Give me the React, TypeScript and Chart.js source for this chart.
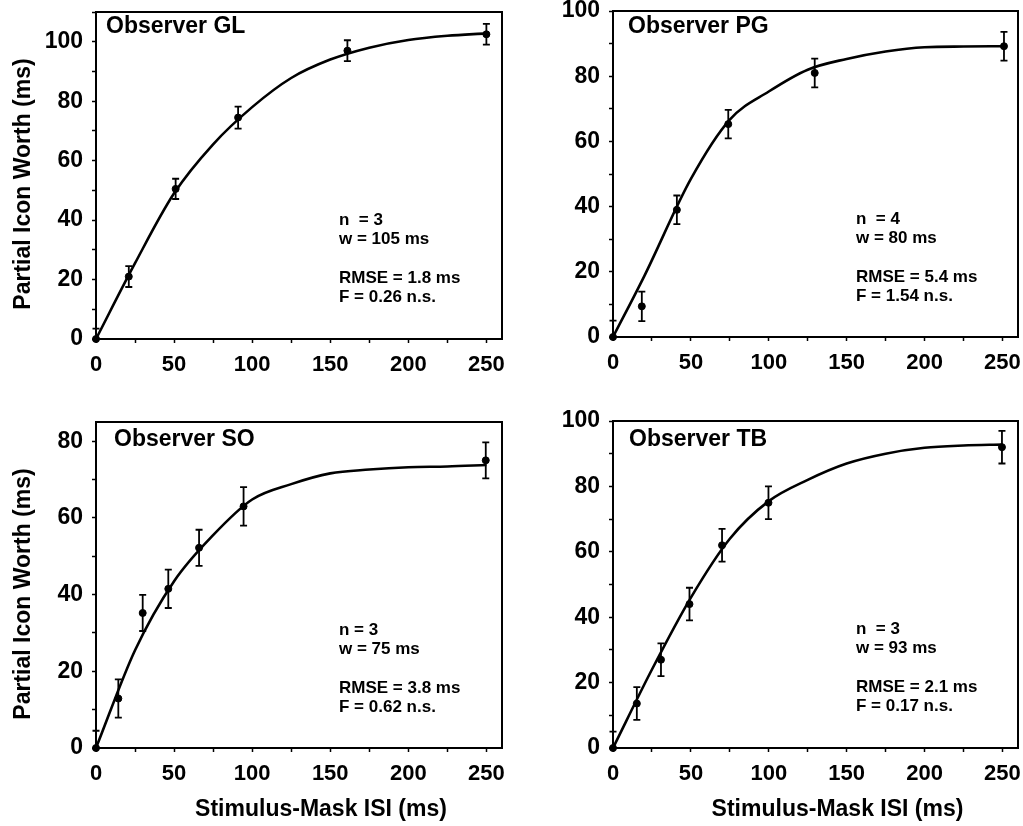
import React, { useEffect, useRef } from 'react';
import { Chart, registerables } from 'chart.js';

Chart.register(...registerables);

const FONT = '"Liberation Sans", Arial, Helvetica, sans-serif';

// ---- Observer GL ----
const glIsi = [0, 21, 51, 91, 161, 250];
const glWorth = [0, 21, 50.5, 74.5, 97, 102.5];
const glErr = [3.5, 3.5, 3.4, 3.7, 3.5, 3.5];
const glFitIsi = [0, 25, 50, 75, 100, 125, 150, 175, 200, 225, 250];
const glFitWorth = [0, 25.5, 49, 65.5, 78, 87.8, 94, 98, 100.6, 102, 102.8];
const glStats = ['n  = 3', 'w = 105 ms', 'RMSE = 1.8 ms', 'F = 0.26 n.s.'];

// ---- Observer PG ----
const pgIsi = [0, 18.5, 41, 74, 129.5, 251];
const pgWorth = [0, 9.4, 39, 65.3, 81, 89.2];
const pgErr = [5, 4.5, 4.4, 4.4, 4.4, 4.4];
const pgFitIsi = [0, 20, 50, 75, 100, 125, 150, 175, 200, 225, 250];
const pgFitWorth = [0, 18.6, 48.5, 66.7, 75.3, 82, 85.3, 87.6, 88.9, 89.1, 89.2];
const pgStats = ['n  = 4', 'w = 80 ms', 'RMSE = 5.4 ms', 'F = 1.54 n.s.'];

// ---- Observer SO ----
const soIsi = [0, 14.3, 29.9, 46.3, 66, 94.5, 249.6];
const soWorth = [0, 12.9, 35.2, 41.5, 52.2, 63, 75];
const soErr = [4.5, 5, 4.7, 5, 4.7, 5, 4.7];
const soFitIsi = [0, 25, 50, 75, 100, 125, 150, 175, 200, 225, 250];
const soFitWorth = [0, 25.5, 43.5, 55.5, 64.8, 68.8, 71.6, 72.6, 73.2, 73.4, 73.8];
const soStats = ['n = 3', 'w = 75 ms', 'RMSE = 3.8 ms', 'F = 0.62 n.s.'];

// ---- Observer TB ----
const tbIsi = [0, 15.3, 30.8, 49.1, 70, 99.8, 249.7];
const tbWorth = [0, 13.6, 27, 44, 62, 75, 92];
const tbErr = [5, 5, 5, 5, 5, 5, 5];
const tbFitIsi = [0, 25, 50, 75, 100, 125, 150, 175, 200, 225, 250];
const tbFitWorth = [0, 24, 46, 64, 75.5, 82, 87, 90, 91.8, 92.5, 92.8];
const tbStats = ['n  = 3', 'w = 93 ms', 'RMSE = 2.1 ms', 'F = 0.17 n.s.'];

// ---- Axes ----
const xTickValues = [0, 25, 50, 75, 100, 125, 150, 175, 200, 225, 250];
const xTickLabels = [0, 50, 100, 150, 200, 250];
const yTicks110 = [0, 10, 20, 30, 40, 50, 60, 70, 80, 90, 100, 110];
const yTicks100 = [0, 10, 20, 30, 40, 50, 60, 70, 80, 90, 100];
const yTicks80 = [0, 10, 20, 30, 40, 50, 60, 70, 80];
const yTickLabels = [0, 20, 40, 60, 80, 100];

const yTitle = 'Partial Icon Worth (ms)';
const xTitle = 'Stimulus-Mask ISI (ms)';

type PanelCfg = {
  name: string;
  isi: number[];
  worth: number[];
  err: number[];
  fitIsi: number[];
  fitWorth: number[];
  stats: string[];
  yMax: number;
  yTicks: number[];
  left: number;
  top: number;
  w: number;
  h: number;
  area: { l: number; t: number; r: number; b: number };
  nameOff: { x: number; y: number };
  showY: boolean;
  showX: boolean;
};

// canvas boxes; bottom row canvases start 15px higher so top tick labels are not cut
const panels: PanelCfg[] = [
  {
    name: 'Observer GL', isi: glIsi, worth: glWorth, err: glErr, fitIsi: glFitIsi, fitWorth: glFitWorth,
    stats: glStats, yMax: 110, yTicks: yTicks110,
    left: 0, top: 0, w: 512, h: 400, area: { l: 96, t: 12, r: 502, b: 339 },
    nameOff: { x: 10, y: 15 }, showY: true, showX: false,
  },
  {
    name: 'Observer PG', isi: pgIsi, worth: pgWorth, err: pgErr, fitIsi: pgFitIsi, fitWorth: pgFitWorth,
    stats: pgStats, yMax: 100, yTicks: yTicks100,
    left: 512, top: 0, w: 511, h: 400, area: { l: 101, t: 11, r: 508, b: 337 },
    nameOff: { x: 15, y: 16 }, showY: false, showX: false,
  },
  {
    name: 'Observer SO', isi: soIsi, worth: soWorth, err: soErr, fitIsi: soFitIsi, fitWorth: soFitWorth,
    stats: soStats, yMax: 85, yTicks: yTicks80,
    left: 0, top: 398, w: 512, h: 428, area: { l: 96, t: 24, r: 502, b: 350 },
    nameOff: { x: 18, y: 18 }, showY: true, showX: true,
  },
  {
    name: 'Observer TB', isi: tbIsi, worth: tbWorth, err: tbErr, fitIsi: tbFitIsi, fitWorth: tbFitWorth,
    stats: tbStats, yMax: 100, yTicks: yTicks100,
    left: 512, top: 398, w: 511, h: 428, area: { l: 101, t: 23, r: 508, b: 350 },
    nameOff: { x: 16, y: 19 }, showY: false, showX: true,
  },
];

function Panel({ cfg }: { cfg: PanelCfg }) {
  const ref = useRef<HTMLCanvasElement>(null);

  useEffect(() => {
    const canvas = ref.current!;
    const decor = {
      id: 'decor',
      afterDatasetsDraw(chart: any) {
        const ctx = chart.ctx as CanvasRenderingContext2D;
        const xs = chart.scales.x;
        const ys = chart.scales.y;
        const a = chart.chartArea;
        ctx.save();
        // box frame
        ctx.strokeStyle = '#000';
        ctx.lineWidth = 2;
        ctx.strokeRect(a.left, a.top, a.right - a.left, a.bottom - a.top);
        // error bars
        ctx.lineWidth = 1.8;
        for (let i = 0; i < cfg.isi.length; i++) {
          const px = xs.getPixelForValue(cfg.isi[i]);
          const hi = ys.getPixelForValue(cfg.worth[i] + cfg.err[i]);
          const lo = ys.getPixelForValue(Math.max(0, cfg.worth[i] - cfg.err[i]));
          ctx.beginPath();
          ctx.moveTo(px, hi);
          ctx.lineTo(px, lo);
          ctx.moveTo(px - 3.5, hi);
          ctx.lineTo(px + 3.5, hi);
          if (cfg.worth[i] - cfg.err[i] > 0) {
            ctx.moveTo(px - 3.5, lo);
            ctx.lineTo(px + 3.5, lo);
          }
          ctx.stroke();
        }
        // texts
        ctx.fillStyle = '#000';
        ctx.textAlign = 'left';
        ctx.textBaseline = 'middle';
        ctx.font = `bold 23px ${FONT}`;
        ctx.fillText(cfg.name, a.left + cfg.nameOff.x, a.top + cfg.nameOff.y);
        ctx.font = `bold 17px ${FONT}`;
        const rows = [208, 227, 266, 285];
        cfg.stats.forEach((s, k) => ctx.fillText(s, a.left + 243, a.top + rows[k]));
        if (cfg.showY) {
          ctx.save();
          ctx.translate(24, a.top + 172);
          ctx.rotate(-Math.PI / 2);
          ctx.textAlign = 'center';
          ctx.font = `bold 23px ${FONT}`;
          ctx.fillText(yTitle, 0, 0);
          ctx.restore();
        }
        if (cfg.showX) {
          ctx.textAlign = 'center';
          ctx.font = `bold 23px ${FONT}`;
          ctx.fillText(xTitle, (a.left + a.right) / 2 + 22, a.bottom + 62);
        }
        ctx.restore();
      },
    };

    const chart = new Chart(canvas, {
      type: 'scatter',
      data: {
        datasets: [
          {
            type: 'line',
            data: cfg.fitIsi.map((x, i) => ({ x, y: cfg.fitWorth[i] })),
            borderColor: '#000',
            borderWidth: 2.6,
            pointRadius: 0,
            cubicInterpolationMode: 'monotone',
            fill: false,
          } as any,
          {
            type: 'scatter',
            data: cfg.isi.map((x, i) => ({ x, y: cfg.worth[i] })),
            backgroundColor: '#000',
            borderColor: '#000',
            pointRadius: 3.5,
            pointStyle: 'circle',
            clip: false,
          } as any,
        ],
      },
      options: {
        responsive: false,
        animation: false,
        devicePixelRatio: 1,
        layout: {
          padding: { left: 0, top: cfg.area.t, right: cfg.w - cfg.area.r, bottom: 0 },
        },
        plugins: { legend: { display: false }, tooltip: { enabled: false }, title: { display: false } },
        scales: {
          x: {
            type: 'linear',
            min: 0,
            max: 260,
            afterBuildTicks: (s: any) => {
              s.ticks = xTickValues.map((v) => ({ value: v }));
            },
            afterFit: (s: any) => {
              s.height = cfg.h - cfg.area.b;
              s.paddingLeft = 0;
              s.paddingRight = 0;
            },
            ticks: {
              autoSkip: false,
              maxRotation: 0,
              padding: 9,
              color: '#000',
              font: { family: FONT, size: 22, weight: 'bold' },
              callback: (v: any) => (xTickLabels.includes(Number(v)) ? String(v) : ''),
            },
            grid: { drawOnChartArea: false, drawTicks: true, tickLength: 4, tickColor: '#000', tickWidth: 1.5 },
            border: { display: false },
          },
          y: {
            type: 'linear',
            min: 0,
            max: cfg.yMax,
            afterBuildTicks: (s: any) => {
              s.ticks = cfg.yTicks.map((v) => ({ value: v }));
            },
            afterFit: (s: any) => {
              s.width = cfg.area.l;
              s.paddingTop = 0;
              s.paddingBottom = 0;
            },
            ticks: {
              autoSkip: false,
              padding: 9,
              color: '#000',
              font: { family: FONT, size: 23, weight: 'bold' },
              callback: (v: any) => (yTickLabels.includes(Number(v)) ? String(v) : ''),
            },
            grid: { drawOnChartArea: false, drawTicks: true, tickLength: 4, tickColor: '#000', tickWidth: 1.5 },
            border: { display: false },
          },
        },
      } as any,
      plugins: [decor],
    });
    return () => chart.destroy();
  }, [cfg]);

  return (
    <div style={{ position: 'absolute', left: cfg.left, top: cfg.top, width: cfg.w, height: cfg.h }}>
      <canvas ref={ref} width={cfg.w} height={cfg.h} style={{ display: 'block' }} />
    </div>
  );
}

export default function App() {
  return (
    <div style={{ position: 'absolute', left: 0, top: 0, width: 1023, height: 826, background: '#fff' }}>
      {panels.map((p) => (
        <Panel key={p.name} cfg={p} />
      ))}
    </div>
  );
}
